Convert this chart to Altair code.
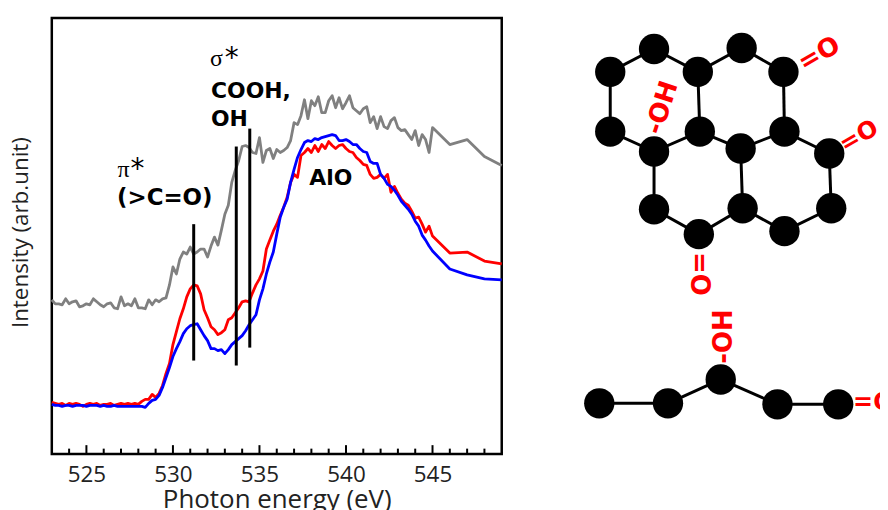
import altair as alt
import pandas as pd

# Spectra sampled every 0.2 eV from 523 to 545 eV, then every 1 eV to 549 eV
gray = [155,151,151,150,156,151,153,154,148,149,151,150,156,153,150,148,151,152,147,146,158,149,151,149,156,147,147,146,155,150,155,153,156,157,170,188,181,196,203,201,208,201,203,206,206,198,209,218,210,225,241,250,273,285,295,309,310,308,303,302,318,293,305,307,297,306,303,305,308,315,333,331,340,356,337,355,350,359,343,343,355,360,348,358,347,353,360,348,345,342,347,349,333,339,327,339,329,327,335,338,328,325,326,321,316,325,310,321,316,303,328,
        311,316,299,290]
red = [52,51,50,51,49,51,50,51,50,48,50,51,50,51,49,50,50,51,49,50,51,50,51,50,51,50,
       53,55,55,60,57,61,69,81,91,110,123,136,146,158,166,170,169,161,145,137,128,125,120,122,125,135,137,142,147,153,154,153,162,170,176,184,206,215,224,231,240,248,258,273,281,278,300,303,307,303,310,304,311,307,314,310,307,310,311,307,304,303,298,295,291,290,281,277,278,281,277,281,263,269,262,256,252,250,244,237,238,231,223,229,219,
       202,203,194,191]
blue = [50,49,49,48,49,49,48,49,49,49,48,49,49,49,48,49,48,48,49,48,48,48,48,48,48,48,
        48,47,51,54,55,59,67,77,87,98,106,113,121,126,129,130,131,125,119,114,106,106,104,105,101,105,110,113,116,119,124,130,135,140,155,166,181,193,203,221,238,248,256,273,286,298,306,313,315,314,317,316,318,319,320,321,320,315,315,316,314,311,311,307,304,303,294,292,292,281,277,271,269,265,260,254,250,246,241,234,229,220,215,209,204,
        186,180,176,175]
energy = [round(523 + 0.2 * i, 1) for i in range(111)] + [546, 547, 548, 549]

major_ticks = [525, 530, 535, 540, 545]
minor_ticks = [524, 526, 527, 528, 529, 531, 532, 533, 534, 536, 537, 538, 539, 541, 542, 543, 544, 546, 547, 548]

peak_x = [531.2, 533.66, 534.44]
peak_lo = [94, 89, 107]
peak_hi = [231, 309, 327]

# Molecule schematic coordinates
atom_x = [609, 653, 697, 741, 783, 609, 653, 699, 740, 784, 829, 653, 698, 742, 784, 831, 598, 667, 720, 777, 838]
atom_y = [69, 46, 69, 45, 69, 129, 149, 129, 146, 129, 151, 207, 232, 206, 229, 206, 402, 402, 378, 403, 403]
bond_a = [0, 1, 2, 3, 0, 5, 2, 4, 6, 7, 8, 9, 6, 11, 12, 13, 14, 15, 8, 16, 17, 18, 19]
bond_b = [1, 2, 3, 4, 5, 6, 7, 9, 7, 8, 9, 10, 11, 12, 13, 14, 15, 10, 13, 17, 18, 19, 20]

curves = pd.DataFrame({
    "energy": energy * 3,
    "intensity": gray + red + blue,
    "series": ["gray"] * len(energy) + ["red"] * len(energy) + ["blue"] * len(energy),
})

X = alt.X("energy:Q", scale=alt.Scale(domain=[523, 549], nice=False, zero=False),
          axis=alt.Axis(values=major_ticks, format="d", ticks=False, domain=False, grid=False,
                        labelFont="Open Sans", labelFontSize=22.5, labelColor="#222222", labelPadding=10,
                        title="Photon energy (eV)", titleFont="Open Sans", titleFontSize=26,
                        titleFontWeight="normal", titleColor="#222222", titlePadding=0))
Y = alt.Y("intensity:Q", scale=alt.Scale(domain=[0, 438], nice=False, zero=False),
          axis=alt.Axis(labels=False, ticks=False, domain=False, grid=False,
                        title="Intensity (arb.unit)", titleFont="Open Sans", titleFontSize=22.5,
                        titleFontWeight="normal", titleColor="#222222", titlePadding=19, titleY=215))

def curve(name, colour):
    return alt.Chart(curves[curves.series == name]).mark_line(
        color=colour, strokeWidth=2.8, strokeJoin="round").encode(x=X, y=Y)

def ticks(values, length):
    d = pd.DataFrame({"energy": values, "intensity": [0] * len(values), "top": [length] * len(values)})
    return alt.Chart(d).mark_rule(color="black", strokeWidth=2).encode(x=X, y=Y, y2="top:Q")

def spec_text(label, x, y, font="DejaVu Sans", size=22, weight="bold"):
    d = pd.DataFrame({"energy": [x], "intensity": [y], "label": [label]})
    return alt.Chart(d).mark_text(font=font, fontSize=size, fontWeight=weight, align="left",
                                  baseline="alphabetic", color="black").encode(x=X, y=Y, text="label:N")

peaks = pd.DataFrame({"energy": peak_x, "intensity": peak_lo, "top": peak_hi})
peak_lines = alt.Chart(peaks).mark_rule(color="black", strokeWidth=3).encode(x=X, y=Y, y2="top:Q")

left = alt.layer(
    curve("gray", "#808080"), curve("red", "#ff0000"), curve("blue", "#0000ff"),
    ticks(major_ticks, 9), ticks(minor_ticks, 5.5),
    peak_lines,
    spec_text("σ", 532.14, 390, font="Liberation Serif", size=24, weight="normal"),
    spec_text("*", 533.0, 389, size=28, weight="normal"),
    spec_text("COOH,", 532.2, 358),
    spec_text("OH", 532.2, 330),
    spec_text("π", 526.79, 278, font="Liberation Serif", size=24, weight="normal"),
    spec_text("*", 527.55, 277, size=28, weight="normal"),
    spec_text("(>C=O)", 526.77, 250, size=23),
    spec_text("AlO", 537.88, 270),
).properties(width=452, height=438, view=alt.ViewConfig(stroke="black", strokeWidth=2.5))

# Molecule panel
MX = alt.X("mx:Q", scale=alt.Scale(domain=[520, 880], nice=False, zero=False), axis=None)
MY = alt.Y("my:Q", scale=alt.Scale(domain=[453, 15], nice=False, zero=False), axis=None)

bonds = pd.DataFrame({
    "mx": [atom_x[i] for i in bond_a], "my": [atom_y[i] for i in bond_a],
    "mx2": [atom_x[i] for i in bond_b], "my2": [atom_y[i] for i in bond_b],
})
bond_marks = alt.Chart(bonds).mark_rule(color="black", strokeWidth=3).encode(x=MX, y=MY, x2="mx2:Q", y2="my2:Q")
atoms = alt.Chart(pd.DataFrame({"mx": atom_x, "my": atom_y})).mark_point(
    filled=True, shape="circle", size=930, color="black", opacity=1).encode(x=MX, y=MY)

def red_text(label, x, y, angle, align="center", size=26):
    d = pd.DataFrame({"mx": [x], "my": [y], "label": [label]})
    return alt.Chart(d).mark_text(font="DejaVu Sans", fontSize=size, fontWeight="bold", color="#ff0000",
                                  angle=angle, align=align, baseline="middle", clip=True).encode(
        x=MX, y=MY, text="label:N")

right = alt.layer(
    bond_marks, atoms,
    red_text("=O", 819, 51, 330),
    red_text("=O", 859, 134, 330, size=24),
    red_text("=O", 698, 272, 90),
    red_text("-OH", 661, 105, 288),
    red_text("-OH", 723, 335, 270),
    red_text("=O", 853, 402, 0, align="left", size=24),
).properties(width=360, height=438, view=alt.ViewConfig(stroke="transparent", strokeWidth=0))

chart = alt.hconcat(left, right, spacing=17).properties(
    padding={"left": 0, "top": 7, "right": 0, "bottom": 0}
).configure(background="white")

chart.save("out.html", embed_options={"renderer": "svg", "actions": False})
